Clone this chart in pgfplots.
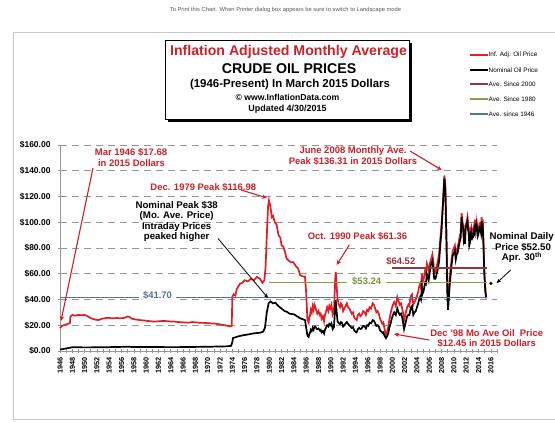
\documentclass[border=0pt]{standalone}
\usepackage{pgfplots}
\pgfplotsset{compat=1.18}
\usetikzlibrary{arrows.meta}
\usepackage{fontspec}
\setmainfont{Liberation Sans}
\definecolor{cred}{RGB}{225,30,38}
\definecolor{tred}{RGB}{205,32,40}
\definecolor{cmaroon}{RGB}{150,55,62}
\definecolor{cgreen}{RGB}{135,160,70}
\definecolor{tgreen}{RGB}{115,150,60}
\definecolor{cblue}{RGB}{85,115,155}
\definecolor{cgrid}{RGB}{150,150,150}
\newcommand{\fs}[1]{\fontsize{#1}{#1}\selectfont}
\begin{document}
\begin{tikzpicture}
\useasboundingbox (0,0) rectangle (555bp,423bp);
\fill[white] (0,0) rectangle (555bp,423bp);
\begin{axis}[at={(60bp,72bp)}, anchor=south west, scale only axis,
  width=437bp, height=206bp,
  xmin=1946, xmax=2017, ymin=0, ymax=160, clip=false,
  axis x line=bottom, axis y line=left,
  axis line style={-, draw=cgrid, line width=0.8bp},
  xtick={1946,1948,...,2016}, minor xtick={1947,1949,...,2017},
  ytick={0,20,...,160},
  yticklabels={\$0.00,\$20.00,\$40.00,\$60.00,\$80.00,\$100.00,\$120.00,\$140.00,\$160.00},
  tick align=center, major tick length=4bp, minor tick length=4bp,
  tick style={draw=cgrid, line width=0.6bp},
  ymajorgrids, major grid style={draw=cgrid, dash pattern=on 7bp off 5bp, line width=0.9bp},
  /pgf/number format/.cd, 1000 sep={}, assume math mode=true, /pgfplots/.cd,
  x tick label style={font=\fs{7.3}\bfseries, rotate=90, anchor=east, xshift=-1bp},
  y tick label style={font=\fs{8.5}\bfseries, anchor=east, xshift=-4bp},
]
% inflation adjusted
\addplot[cred, line width=1.7bp] coordinates {
(1946.0,17.7)(1946.3,19.5)(1946.7,20.2)(1947.2,21)(1947.6,21.5)(1947.7,26.7)(1948.0,28)(1948.5,27.5)(1949.0,28)(1949.5,27.8)(1950.0,28)(1950.5,27)(1951.0,25.5)(1951.6,24.5)(1952.2,24)(1952.8,25)(1953.2,25.4)(1953.8,25.8)(1954.5,25.4)(1955.2,25.6)(1956.0,25.4)(1956.5,25.8)(1957.0,26.8)(1957.3,26.5)(1957.6,25.2)(1958.1,24.6)(1959.0,24)(1959.8,23.6)(1960.5,23.2)(1961.4,22.8)(1962.2,23.2)(1963.0,23.3)(1963.8,23)(1964.7,22.8)(1965.5,22.4)(1966.8,22)(1967.5,22.5)(1968.5,22)(1969.5,21.8)(1970.4,21.5)(1971.2,21.3)(1972.2,20.5)(1973.0,19.8)(1973.6,19)(1973.9,19.5)(1974.0,42)(1974.2,44)(1974.5,43)(1974.7,48)(1975.2,52)(1975.6,53)(1976.0,55)(1976.5,54)(1977.0,56)(1977.5,55)(1978.0,57.5)(1978.5,56)(1978.9,53)(1979.2,55)(1979.4,65)(1979.6,90)(1979.8,112)(1979.95,117)(1980.2,112)(1980.4,104)(1980.6,105)(1980.9,100)(1981.2,98)(1981.5,90)(1981.8,88)(1982.0,82)(1982.3,81)(1982.6,76)(1982.8,72)(1983.2,70)(1983.5,69)(1983.9,69)(1984.3,66)(1984.7,64)(1985.0,59)(1985.4,58)(1985.8,57.8)(1986.0,45)(1986.2,24)(1986.4,22)(1986.5,26)(1986.6,27)(1986.75,32)(1986.9,30)(1987.05,35)(1987.2,32)(1987.35,36)(1987.5,34)(1987.65,31)(1987.8,29)(1988.0,31)(1988.2,28)(1988.35,29)(1988.5,25)(1988.7,27)(1988.9,23)(1989.05,28)(1989.2,30)(1989.4,34)(1989.6,31)(1989.75,35)(1989.9,33)(1990.1,36)(1990.3,28)(1990.5,30)(1990.7,55)(1990.8,61.4)(1990.95,50)(1991.1,40)(1991.3,36)(1991.5,34)(1991.65,37)(1991.8,36)(1992.0,31)(1992.2,33)(1992.4,35)(1992.6,37)(1992.8,34)(1993.0,33)(1993.2,31)(1993.4,29)(1993.6,30)(1993.8,26)(1994.0,25)(1994.2,24)(1994.4,28)(1994.6,29)(1994.8,27)(1995.0,28)(1995.25,31)(1995.5,30)(1995.7,28)(1995.9,32)(1996.1,31)(1996.3,34)(1996.55,33)(1996.8,37)(1997.0,36)(1997.2,33)(1997.4,30)(1997.6,31)(1997.8,29)(1998.0,25)(1998.2,23)(1998.4,21)(1998.55,22)(1998.7,18)(1998.95,12.5)(1999.2,16)(1999.35,19)(1999.5,24)(1999.7,29)(1999.9,33)(2000.1,36)(2000.3,38)(2000.55,35)(2000.8,42)(2001.0,39)(2001.2,36)(2001.4,37)(2001.6,33)(2001.75,29)(2001.9,24)(2002.05,27)(2002.2,30)(2002.4,34)(2002.6,36)(2002.75,35)(2002.9,40)(2003.05,43)(2003.2,44)(2003.4,36)(2003.6,38)(2003.8,40)(2004.0,43)(2004.2,46)(2004.35,50)(2004.5,52)(2004.65,49)(2004.8,60)(2004.95,54)(2005.1,56)(2005.3,62)(2005.45,60)(2005.6,68)(2005.75,66)(2005.9,62)(2006.05,66)(2006.2,70)(2006.35,72)(2006.5,75)(2006.65,70)(2006.8,60)(2007.0,62)(2007.2,66)(2007.4,70)(2007.6,76)(2007.8,88)(2008.0,100)(2008.2,115)(2008.45,136.3)(2008.6,130)(2008.8,90)(2008.95,46)(2009.1,40)(2009.3,55)(2009.45,64)(2009.6,70)(2009.8,78)(2010.0,80)(2010.15,82)(2010.3,75)(2010.45,78)(2010.6,80)(2010.75,84)(2010.9,88)(2011.1,92)(2011.25,107)(2011.4,100)(2011.5,98)(2011.6,90)(2011.7,92)(2011.8,86)(2011.9,98)(2012.05,100)(2012.2,104)(2012.3,98)(2012.4,96)(2012.5,86)(2012.6,88)(2012.7,94)(2012.8,96)(2012.9,90)(2013.0,94)(2013.15,92)(2013.3,98)(2013.4,95)(2013.5,102)(2013.6,96)(2013.7,100)(2013.85,92)(2014.0,94)(2014.15,99)(2014.3,98)(2014.4,95)(2014.5,104)(2014.6,96)(2014.7,98)(2014.8,86)(2014.95,62)(2015.1,50)(2015.25,41)
};
% nominal
\addplot[black, line width=1.7bp] coordinates {
(1946.0,1.2)(1946.5,1.5)(1947.0,2)(1947.6,2.5)(1948.0,3)(1950,2.8)(1953,2.9)(1957,3.3)(1958,3.1)(1965,3.0)(1970,3.3)(1973.0,3.6)(1973.8,4)(1974.0,7)(1974.1,10)(1974.7,11)(1975.5,12)(1976.5,12.8)(1977.5,13.7)(1978.5,14.2)(1979.0,15)(1979.3,18)(1979.6,30)(1979.9,37)(1980.2,38.5)(1980.6,37)(1981.0,37.5)(1981.3,35.8)(1981.7,34)(1982.0,33)(1982.5,31)(1982.8,30.6)(1983.3,29)(1984.0,28.5)(1984.5,27)(1985.0,25.5)(1985.8,24)(1986.0,18)(1986.2,12)(1986.4,11)(1986.5,13)(1986.6,14)(1986.75,16.5)(1986.9,15.5)(1987.05,18)(1987.2,16.5)(1987.35,19)(1987.5,19)(1987.65,17.5)(1987.8,17)(1988.0,17.5)(1988.2,16)(1988.35,16.5)(1988.5,14.5)(1988.7,15.5)(1988.9,13.5)(1989.05,16.5)(1989.2,18)(1989.4,20)(1989.6,19)(1989.75,21)(1989.9,20)(1990.1,21.5)(1990.3,17)(1990.5,18.5)(1990.7,33)(1990.8,39.7)(1990.95,30)(1991.1,23)(1991.3,21.5)(1991.5,21)(1991.65,22.5)(1991.8,22)(1992.0,19)(1992.2,20)(1992.4,21.5)(1992.6,22.5)(1992.8,21)(1993.0,20)(1993.2,19)(1993.4,18)(1993.6,18.5)(1993.8,16)(1994.0,15)(1994.2,14.5)(1994.4,17)(1994.6,18)(1994.8,17)(1995.0,17.5)(1995.25,19.5)(1995.5,19)(1995.7,17.5)(1995.9,20)(1996.1,19.5)(1996.3,22)(1996.55,21.5)(1996.8,24)(1997.0,23.5)(1997.2,21.5)(1997.4,19.5)(1997.6,20)(1997.8,19)(1998.0,16)(1998.2,15)(1998.4,14)(1998.55,14.5)(1998.7,12)(1998.95,10)(1999.2,12)(1999.35,14)(1999.5,18)(1999.7,21)(1999.9,25)(2000.1,28)(2000.3,30)(2000.55,28)(2000.8,33)(2001.0,30)(2001.2,28)(2001.4,29)(2001.6,26)(2001.75,22)(2001.9,17)(2002.05,20)(2002.2,23)(2002.4,27)(2002.6,28)(2002.75,28)(2002.9,31)(2003.05,34)(2003.2,35)(2003.4,28)(2003.6,30)(2003.8,31)(2004.0,34)(2004.2,37)(2004.35,40)(2004.5,42)(2004.65,40)(2004.8,50)(2004.95,45)(2005.1,47)(2005.3,53)(2005.45,52)(2005.6,60)(2005.75,58)(2005.9,55)(2006.05,60)(2006.2,66)(2006.35,68)(2006.5,70)(2006.65,64)(2006.8,56)(2007.0,56)(2007.2,60)(2007.4,64)(2007.6,70)(2007.8,83)(2008.0,94)(2008.2,112)(2008.45,134)(2008.6,126)(2008.8,80)(2008.95,40)(2009.05,32)(2009.3,50)(2009.45,58)(2009.6,66)(2009.8,74)(2010.0,76)(2010.15,78)(2010.3,71)(2010.45,75)(2010.6,76)(2010.75,80)(2010.9,84)(2011.1,88)(2011.25,104)(2011.4,97)(2011.5,95)(2011.6,86)(2011.7,88)(2011.8,83)(2011.9,95)(2012.05,98)(2012.2,101)(2012.3,94)(2012.4,92)(2012.5,82)(2012.6,84)(2012.7,90)(2012.8,92)(2012.9,86)(2013.0,90)(2013.15,89)(2013.3,94)(2013.4,92)(2013.5,99)(2013.6,93)(2013.7,97)(2013.85,89)(2014.0,91)(2014.15,96)(2014.3,95)(2014.4,92)(2014.5,101)(2014.6,93)(2014.7,95)(2014.8,82)(2014.95,58)(2015.1,46)(2015.25,41)
};
% averages
\addplot[cblue, line width=1.2bp] coordinates {(1946,41.70)(2015.3,41.70)};
\addplot[cgreen, line width=1.2bp] coordinates {(1980,53.24)(2015.3,53.24)};
\addplot[cmaroon, line width=1.2bp] coordinates {(2000,64.52)(2015.3,64.52)};
% nominal daily price Apr 30
\addplot[only marks, mark=*, mark size=1.4bp, black] coordinates {(2016,52.5)};
\end{axis}
\begin{scope}[x=1bp,y=-1bp,shift={(0bp,423bp)}]
% frame
\draw[black!22, line width=0.8bp] (555,32) -- (13,32) -- (13,419) -- (555,419);
\node[font=\fs{5.8}, text=black!65] at (285.5,10.5) {To Print this Chart. When Printer dialog box appears be sure to switch to Landscape mode};
% title box
\fill[black] (168,43) rectangle (412,122);
\draw[fill=white, line width=0.8bp] (165,40) rectangle (409,119);
\node[font=\fs{14.2}\bfseries, text=tred, inner sep=0] at (288.5,51.7) {Inflation Adjusted Monthly Average};
\node[font=\fs{14.2}\bfseries, inner sep=0] at (289,68.3) {CRUDE OIL PRICES};
\node[font=\fs{11.5}\bfseries, inner sep=0] at (290,84.3) {(1946-Present) In March 2015 Dollars};
\node[font=\fs{8.7}\bfseries, inner sep=0] at (287.5,97.7) {© www.InflationData.com};
\node[font=\fs{9}\bfseries, inner sep=0] at (287.5,109.3) {Updated 4/30/2015};
% legend
\draw[cred, line width=1.6bp] (470,55) -- (488,55);
\node[anchor=west, font=\fs{6.4}, inner sep=0.5bp] at (488,55) {Inf. Adj. Oil Price};
\draw[black, line width=1.6bp] (470,70) -- (488,70);
\node[anchor=west, font=\fs{6.4}, inner sep=0.5bp] at (488,70) {Nominal Oil Price};
\draw[cmaroon, line width=1.6bp] (470,84.3) -- (488,84.3);
\node[anchor=west, font=\fs{6.4}, inner sep=0.5bp] at (488,84.3) {Ave. Since 2000};
\draw[cgreen, line width=1.6bp] (470,99) -- (488,99);
\node[anchor=west, font=\fs{6.4}, inner sep=0.5bp] at (488,99) {Ave. Since 1980};
\draw[cblue, line width=1.6bp] (470,114) -- (488,114);
\node[anchor=west, font=\fs{6.4}, inner sep=0.5bp] at (488,114) {Ave. since 1946};
% annotations
\tikzset{ann/.style={font=\fs{9.5}\bfseries, text=tred, inner sep=0},
         annb/.style={font=\fs{9.7}\bfseries, text=black, inner sep=0},
         rarr/.style={tred, line width=1.1bp, -{Stealth[length=5bp,width=4.5bp]}},
         barr/.style={black, line width=0.8bp, -{Stealth[length=4.5bp,width=4bp]}}}
\node[ann] at (131,152.7) {Mar 1946 \$17.68};
\node[ann] at (131.5,163.3) {in 2015 Dollars};
\draw[rarr] (93,168) -- (61,321);
\node[ann] at (203.3,187) {Dec. 1979 Peak \$116.98};
\draw[rarr] (241,190) -- (267,198);
\node[annb] at (176.7,205) {Nominal Peak \$38};
\node[annb] at (176.7,215.8) {(Mo. Ave. Price)};
\node[annb] at (176.7,226.6) {Intraday Prices};
\node[annb] at (176.7,237.4) {peaked higher};
\draw[barr] (218,238.5) -- (268,298);
\node[font=\fs{9.5}\bfseries, text=cblue, fill=white, inner xsep=4bp, inner ysep=1bp] at (157.5,295.7) {\$41.70};
\node[font=\fs{9.5}\bfseries, text=tgreen, fill=white, inner xsep=5bp, inner ysep=1bp] at (366.7,281.7) {\$53.24};
\node[font=\fs{9.5}\bfseries, text=cmaroon, inner sep=0] at (400.8,261.2) {\$64.52};
\node[ann] at (357.5,236) {Oct. 1990 Peak \$61.36};
\draw[rarr] (349.3,245) -- (336.7,265);
\node[ann] at (353,150.7) {June 2008 Monthly Ave.};
\node[ann] at (353,161.7) {Peak \$136.31 in 2015 Dollars};
\draw[rarr] (410,151) -- (441.7,170);
\node[ann] at (486.7,332.7) {Dec '98 Mo Ave Oil\ \ Price};
\node[ann] at (486.7,343.3) {\$12.45 in 2015 Dollars};
\draw[rarr] (429.3,340) -- (394,334);
\node[annb] at (521.7,237.3) {Nominal Daily};
\node[annb] at (523,247.3) {Price \$52.50};
\node[annb] at (522,257.7) {Apr. 30\textsuperscript{th}};
\draw[barr] (510.7,270) -- (496.7,283);
\end{scope}
\end{tikzpicture}
\end{document}
